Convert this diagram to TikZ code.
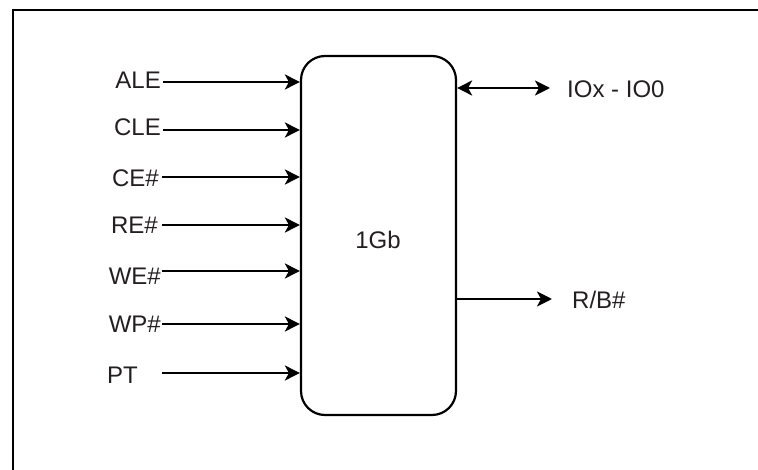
\documentclass[tikz,border=0pt]{standalone}
\usepackage{fontspec}
\setmainfont{Liberation Sans}
\usetikzlibrary{arrows.meta}
\definecolor{txt}{HTML}{231F20}
\begin{document}
\begin{tikzpicture}[x=1pt,y=-1pt,
  lbl/.style={font=\fontsize{24}{27}\selectfont, text=txt, inner sep=0pt},
  sig/.style={line width=2.4pt, -{Stealth[length=15pt,width=15pt,inset=4pt]}},
  bisig/.style={line width=2.4pt, {Stealth[length=15pt,width=15pt,inset=4pt]}-{Stealth[length=15pt,width=15pt,inset=4pt]}},
  chip/.style={draw, line width=2.2pt, rounded corners=24pt, minimum width=155pt, minimum height=359pt, inner sep=0pt}]
\useasboundingbox (0,0) rectangle (758,470);
\draw[line width=2pt] (12.5,472) -- (12.5,10.5) -- (760,10.5);
\node[chip] (box) at (378.5,235.5) {};
\node[lbl] (chiplbl) at (378,240) {1Gb};
\node[lbl, anchor=east] (ale) at (161,80) {ALE};
\node[lbl, anchor=east] (cle) at (161,127) {CLE};
\node[lbl, anchor=east] (ce) at (159,178) {CE\#};
\node[lbl, anchor=east] (re) at (158,225) {RE\#};
\node[lbl, anchor=east] (we) at (161,276) {WE\#};
\node[lbl, anchor=east] (wp) at (161,324) {WP\#};
\node[lbl, anchor=east] (pt) at (138,375) {PT};
\coordinate (ptstart) at (162,373);
\draw[sig] (163,82) coordinate (a1) -- (a1 -| box.west);
\draw[sig] (163,130) coordinate (a2) -- (a2 -| box.west);
\draw[sig] (162,177) coordinate (a3) -- (a3 -| box.west);
\draw[sig] (162,225) coordinate (a4) -- (a4 -| box.west);
\draw[sig] (162,271) coordinate (a5) -- (a5 -| box.west);
\draw[sig] (162,324) coordinate (a6) -- (a6 -| box.west);
\draw[sig] (ptstart) -- (ptstart -| box.west);
\node[lbl, anchor=west] (io) at (567,89) {IOx - IO0};
\node[lbl, anchor=west] (rb) at (572,300) {R/B\#};
\coordinate (ioend) at (550,88);
\coordinate (rbend) at (552,299);
\draw[bisig] (ioend -| box.east) -- (ioend);
\draw[sig] (rbend -| box.east) -- (rbend);
\end{tikzpicture}
\end{document}
